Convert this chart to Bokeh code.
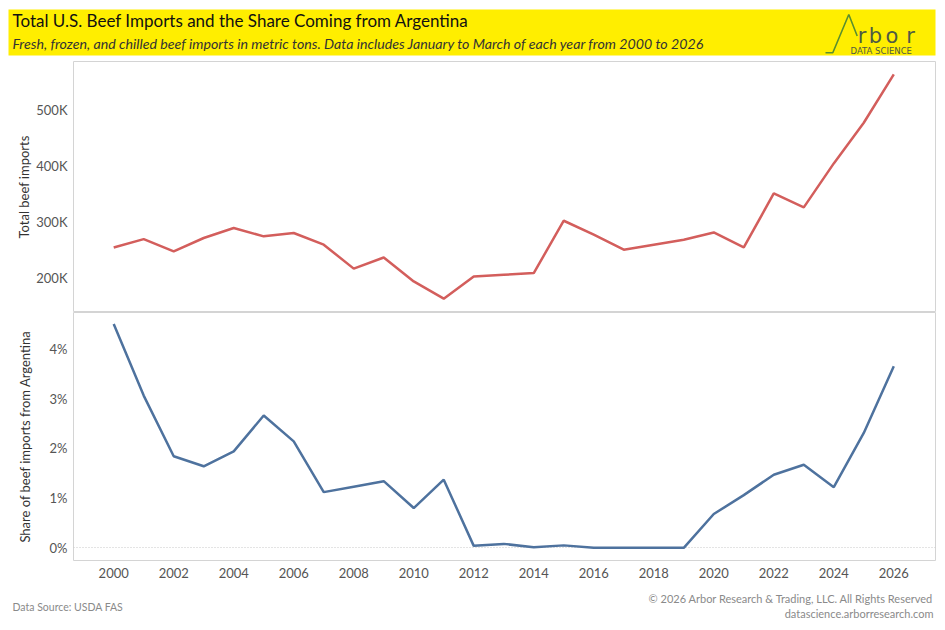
from bokeh.plotting import figure
from bokeh.layouts import column
from bokeh.models import Range1d, FixedTicker, PrintfTickFormatter, BoxAnnotation
from bokeh.core.properties import value
from bokeh.embed import file_html
from bokeh.resources import INLINE

# ---------------- data ----------------
years = list(range(2000, 2027))
total_imports_k = [254, 269, 247, 271, 289, 274, 280, 259, 216, 236, 193, 162, 202, 205,
                   208, 302, 277, 250, 259, 268, 281, 254, 351, 326, 405, 478, 565]
share_argentina_pct = [4.50, 3.06, 1.84, 1.64, 1.94, 2.66, 2.14, 1.12, 1.23, 1.34, 0.80, 1.37,
                       0.04, 0.08, 0.01, 0.05, 0.00, 0.00, 0.00, 0.00, 0.68, 1.06, 1.47, 1.67,
                       1.22, 2.31, 3.65]
top_ticks = [200, 300, 400, 500]
bottom_ticks = [0, 1, 2, 3, 4]
x_ticks = list(range(2000, 2027, 2))

title_text = "Total U.S. Beef Imports and the Share Coming from Argentina"
subtitle_text = ("Fresh, frozen, and chilled beef imports in metric tons. "
                 "Data includes January to March of each year from 2000 to 2026")
source_text = "Data Source: USDA FAS"
copyright_text = "\u00a9 2026 Arbor Research & Trading, LLC. All Rights Reserved"
site_text = "datascience.arborresearch.com"

# ---------------- style ----------------
W = 945
FONT_NAME = "Lato"
FONT = value(FONT_NAME)
RED = "#D35E5C"
BLUE = "#4E729E"
BORDER = "#d4d4d4"
YELLOW = "#FFEE00"
TICK_COLOR = "#555555"
LEFT = 73
RIGHT = 10


def bare(height):
    p = figure(width=W, height=height, x_range=Range1d(0, W), y_range=Range1d(height, 0),
               output_backend="svg", toolbar_location=None,
               x_axis_location=None, y_axis_location=None,
               min_border=0, outline_line_color=None)
    p.grid.visible = False
    p.frame_align = False
    return p


def canvas_box(p, l, r, t, b):
    p.add_layout(BoxAnnotation(left=l, right=r, top=t, bottom=b,
                               left_units="canvas", right_units="canvas",
                               top_units="canvas", bottom_units="canvas",
                               fill_color=BORDER, fill_alpha=1.0,
                               line_color=None, level="overlay"))


# ---------------- header ----------------
head = bare(61)
head.quad(left=[8], right=[935], top=[9], bottom=[55], fill_color=YELLOW, line_color=None)
head.text(x=[12], y=[20], text=[title_text], text_font=FONT, text_font_size="17px",
          text_baseline="middle", text_color="#111111")
head.text(x=[12], y=[43], text=[subtitle_text], text_font=FONT, text_font_size="14.2px",
          text_font_style="italic", text_baseline="middle", text_color="#333333")
head.line(x=[825, 832.3, 848.3, 856.7], y=[52.3, 52.3, 14, 35.5], line_color="#5a8f2e",
          line_width=1.6)
head.text(x=[861.5, 875, 891.5, 910], y=[35.5] * 4, text=["r", "b", "o", "r"],
          text_font=value("DejaVu Sans"), text_font_size="21px", text_align="center",
          text_baseline="alphabetic", text_color="#4f5a44")
head.text(x=[850], y=[50.3], text=["DATA SCIENCE"], text_font=value("DejaVu Sans"),
          text_font_size="8.5px", text_baseline="middle", text_color="#4f5a44")

# ---------------- shared x ----------------
xr = Range1d(1998.66, 2027.39)

# ---------------- top panel ----------------
top = figure(width=W, height=251, x_range=xr, y_range=Range1d(137.2, 588.0),
             output_backend="svg", toolbar_location=None, x_axis_location=None,
             min_border_left=LEFT, min_border_right=RIGHT, min_border_top=0,
             min_border_bottom=0, outline_line_color=BORDER)
top.line(years, total_imports_k, line_color=RED, line_width=2.5)
top.grid.visible = False
ya = top.yaxis[0]
ya.ticker = FixedTicker(ticks=top_ticks)
ya.formatter = PrintfTickFormatter(format="%dK")
ya.axis_label = "Total beef imports"
canvas_box(top, 8, LEFT, 0, 1)

# ---------------- bottom panel ----------------
bot = figure(width=W, height=271, x_range=xr, y_range=Range1d(-0.254, 4.73),
             output_backend="svg", toolbar_location=None,
             min_border_left=LEFT, min_border_right=RIGHT, min_border_top=0,
             min_border_bottom=23, outline_line_color=BORDER)
bot.line(years, share_argentina_pct, line_color=BLUE, line_width=2.5)
bot.xgrid.visible = False
bot.ygrid.ticker = FixedTicker(ticks=[0])
bot.ygrid.grid_line_color = "#c8c8c8"
bot.ygrid.grid_line_dash = "1 2"
yb = bot.yaxis[0]
yb.ticker = FixedTicker(ticks=bottom_ticks)
yb.formatter = PrintfTickFormatter(format="%d%%")
yb.axis_label = "Share of beef imports from Argentina"
xb = bot.xaxis[0]
xb.ticker = FixedTicker(ticks=x_ticks)
canvas_box(bot, 8, LEFT, 0, 1)
canvas_box(bot, 10, LEFT, 248, 249)
canvas_box(bot, LEFT - 0.5, LEFT + 0.5, 248, 271)
canvas_box(bot, W - RIGHT - 0.5, W - RIGHT + 0.5, 248, 271)

for p, standoff in ((top, 1), (bot, 14)):
    for ax in p.yaxis:
        ax.axis_label_standoff = standoff
for p in (top, bot):
    for ax in p.axis:
        ax.axis_line_color = None
        ax.major_tick_out = 0
        ax.major_tick_in = 0
        ax.minor_tick_out = 0
        ax.minor_tick_in = 0
        ax.major_label_standoff = 6
        ax.major_label_text_font = FONT_NAME
        ax.major_label_text_font_size = "13px"
        ax.major_label_text_color = TICK_COLOR
        ax.axis_label_text_font = FONT_NAME
        ax.axis_label_text_font_size = "13px"
        ax.axis_label_text_font_style = "normal"
        ax.axis_label_text_color = "#333333"
xb.major_label_standoff = 7

# ---------------- footer ----------------
foot = bare(46)
foot.text(x=[12], y=[23], text=[source_text], text_font=FONT, text_font_size="10.5px",
          text_baseline="middle", text_color="#8a8a8a")
foot.text(x=[933, 933], y=[15, 30], text=[copyright_text, site_text], text_font=FONT,
          text_font_size="11px", text_baseline="middle", text_align="right",
          text_color="#8a8a8a")

layout = column(head, top, bot, foot, spacing=0)
open("out.html", "w").write(file_html(layout, INLINE))
